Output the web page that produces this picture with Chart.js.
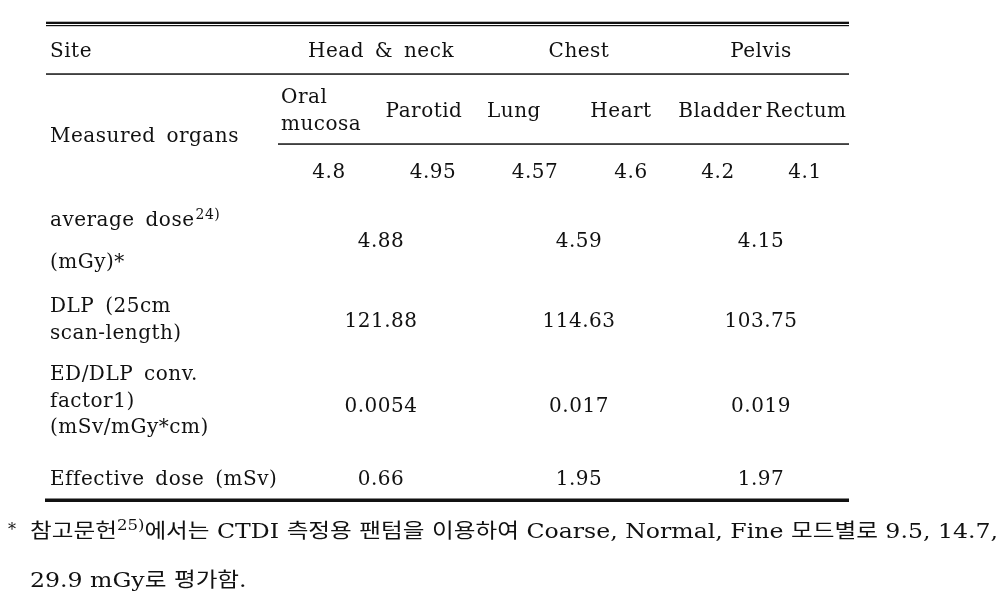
<!DOCTYPE html>
<html>
<head>
<meta charset="utf-8">
<script src="https://cdn.jsdelivr.net/npm/chart.js@4.4.1/dist/chart.umd.min.js"></script>
<style>
  html, body { margin: 0; padding: 0; background: #fff; }
  #tableChart { display: block; }
</style>
</head>
<body>
<canvas id="tableChart" width="1008" height="606"></canvas>
<script>
// table contents
const siteNames = ['Head & neck', 'Chest', 'Pelvis'];
const organNames = [['Oral', 'mucosa'], 'Parotid', 'Lung', 'Heart', 'Bladder', 'Rectum'];
const organDose = [4.8, 4.95, 4.57, 4.6, 4.2, 4.1];
const averageDose = [4.88, 4.59, 4.15];
const dlp = [121.88, 114.63, 103.75];
const conversionFactor = [0.0054, 0.017, 0.019];
const effectiveDose = [0.66, 1.95, 1.97];
const footnote1 = ['* ', '참고문헌', '25)', '에서는 CTDI 측정용 팬텀을 이용하여 Coarse, Normal, Fine 모드별로 9.5, 14.7,'];
const footnote2 = '29.9 mGy로 평가함.';

// layout (in scale units, 0..1008 x 0..606)
const siteX = [381, 579, 761];
const organX = [281, 424, 514, 621, 720, 806];
const doseX = [329, 433, 535, 631, 718, 805];
const labelX = 50;

const FONT = "'DejaVu Serif', 'Noto Sans CJK KR', serif";
const INK = '#111';

function put(ctx, str, x, y, align, size) {
    ctx.font = (size || 20) + 'px ' + FONT;
    ctx.textAlign = align || 'left';
    ctx.fillText(str, x, y);
    return ctx.measureText(str).width;
}

const tablePlugin = {
    id: 'tablePlugin',
    afterDraw(chart) {
        const ctx = chart.ctx;
        const sx = v => chart.scales.x.getPixelForValue(v);
        const sy = v => chart.scales.y.getPixelForValue(v);
        const rule = (x0, x1, y, w) => ctx.fillRect(sx(x0), sy(y), sx(x1) - sx(x0), w);

        ctx.save();
        ctx.fillStyle = INK;
        ctx.textBaseline = 'alphabetic';
        ctx.letterSpacing = '0.5px';
        ctx.wordSpacing = '4px';

        // rules
        rule(46, 849, 21.7, 2.3);
        rule(46, 849, 25, 1.2);
        rule(46, 849, 73.3, 1.5);
        rule(278, 849, 143.3, 1.5);
        rule(45, 849, 498.5, 3.5);

        // header: sites
        put(ctx, 'Site', sx(labelX), sy(56.5));
        siteNames.forEach((s, i) => put(ctx, s, sx(siteX[i]), sy(56.5), 'center'));

        // organs
        put(ctx, 'Measured organs', sx(labelX), sy(141.5));
        organNames.forEach((o, i) => {
            if (Array.isArray(o)) {
                put(ctx, o[0], sx(organX[i]), sy(102.5));
                put(ctx, o[1], sx(organX[i]), sy(129.5));
            } else {
                put(ctx, o, sx(organX[i]), sy(116.5), 'center');
            }
        });
        organDose.forEach((v, i) => put(ctx, String(v), sx(doseX[i]), sy(178), 'center'));

        // average dose
        let w = put(ctx, 'average dose', sx(labelX), sy(226));
        put(ctx, '24)', sx(labelX) + w + 1, sy(219), 'left', 14);
        put(ctx, '(mGy)*', sx(labelX), sy(268));
        averageDose.forEach((v, i) => put(ctx, String(v), sx(siteX[i]), sy(246.5), 'center'));

        // DLP
        put(ctx, 'DLP (25cm', sx(labelX), sy(311.5));
        put(ctx, 'scan-length)', sx(labelX), sy(338.5));
        dlp.forEach((v, i) => put(ctx, String(v), sx(siteX[i]), sy(326.5), 'center'));

        // conversion factor
        put(ctx, 'ED/DLP conv.', sx(labelX), sy(380));
        put(ctx, 'factor1)', sx(labelX), sy(406.5));
        put(ctx, '(mSv/mGy*cm)', sx(labelX), sy(433));
        conversionFactor.forEach((v, i) => put(ctx, String(v), sx(siteX[i]), sy(411.5), 'center'));

        // effective dose
        put(ctx, 'Effective dose (mSv)', sx(labelX), sy(484.5));
        effectiveDose.forEach((v, i) => put(ctx, String(v), sx(siteX[i]), sy(484.5), 'center'));

        // footnote line 1, squeezed to the printed width
        ctx.letterSpacing = '0px';
        ctx.wordSpacing = '0px';
        const sizes = [16, 20, 14, 20];
        const widths = footnote1.map((s, i) => {
            ctx.font = sizes[i] + 'px ' + FONT;
            return ctx.measureText(s).width;
        });
        const starW = widths[0];
        const bodyW = widths.slice(1).reduce((a, b) => a + b, 0);
        const k = (sx(998) - sx(30)) / bodyW;
        put(ctx, '*', sx(8), sy(535), 'left', 16);
        let cx = 0;
        ctx.save();
        ctx.translate(sx(30), 0);
        ctx.scale(k, 1);
        for (let i = 1; i < footnote1.length; i++) {
            const yb = i === 2 ? sy(530) : sy(537.5);
            put(ctx, footnote1[i], cx, yb, 'left', sizes[i]);
            cx += widths[i];
        }
        ctx.restore();

        // footnote line 2
        ctx.save();
        ctx.translate(sx(30), 0);
        ctx.scale(k, 1);
        put(ctx, footnote2, 0, sy(586.5), 'left', 20);
        ctx.restore();

        ctx.restore();
    }
};

new Chart(document.getElementById('tableChart').getContext('2d'), {
    type: 'scatter',
    data: { datasets: [] },
    options: {
        responsive: false,
        animation: false,
        layout: { padding: 0 },
        plugins: { legend: { display: false }, tooltip: { enabled: false } },
        scales: {
            x: { type: 'linear', display: false, min: 0, max: 1008 },
            y: { type: 'linear', display: false, min: 0, max: 606, reverse: true }
        }
    },
    plugins: [tablePlugin]
});
</script>
</body>
</html>
